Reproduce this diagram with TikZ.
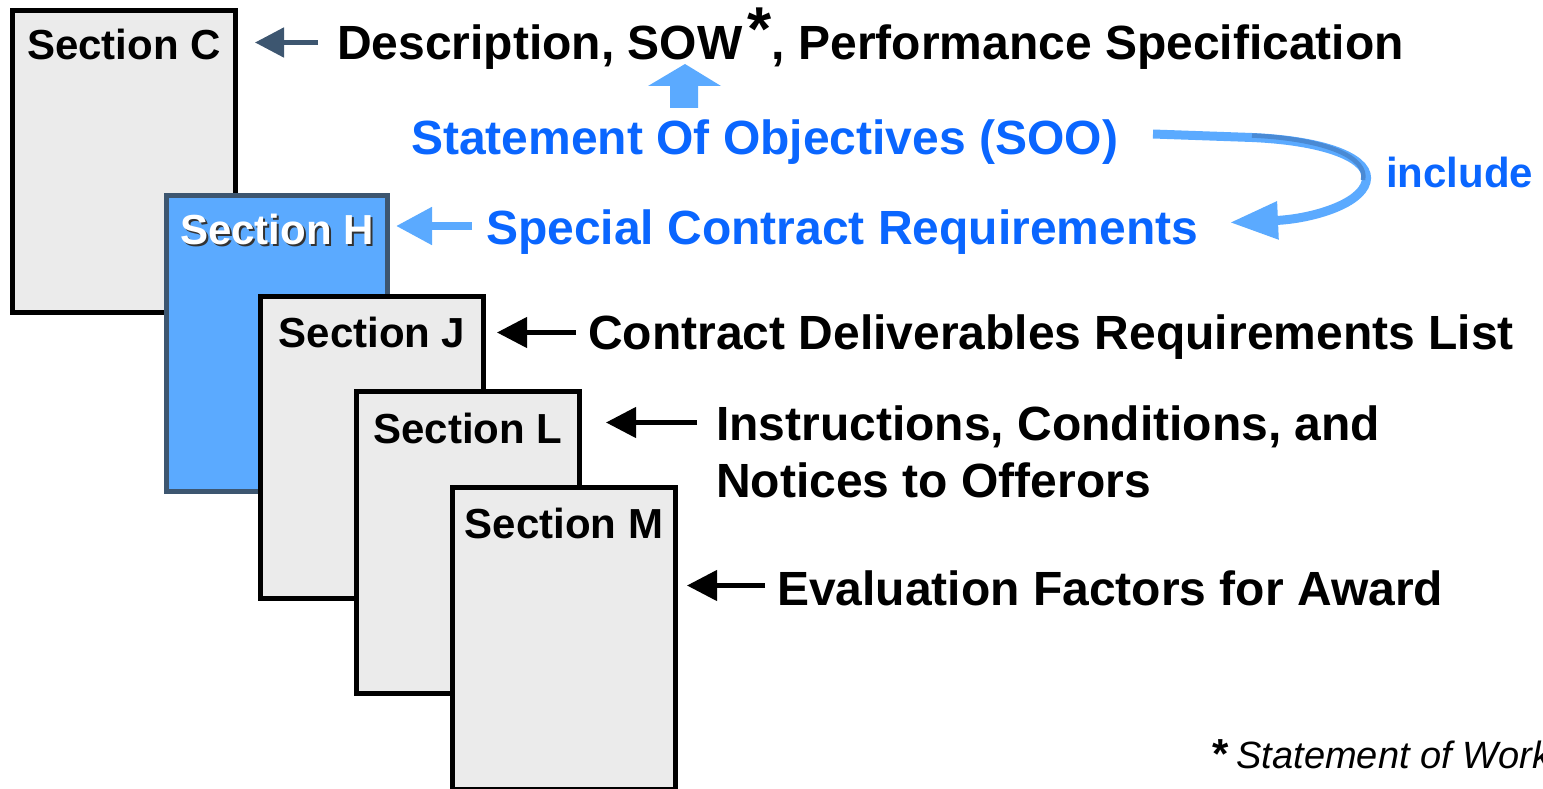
\documentclass[tikz,border=0pt]{standalone}
\usepackage{fontspec}
\setmainfont{Liberation Sans}
\usetikzlibrary{arrows.meta}
\definecolor{boxgray}{HTML}{EBEBEB}
\definecolor{hblue}{HTML}{5BAAFF}
\definecolor{hborder}{HTML}{3D5670}
\definecolor{tblue}{HTML}{0A66FF}
\definecolor{ribbon}{HTML}{4A8AD4}
\begin{document}
\begin{tikzpicture}[x=1pt,y=-1pt,
  page/.style={draw=black, line width=5pt, fill=boxgray, minimum width=223pt, minimum height=302pt, anchor=north west, inner sep=0pt, outer sep=0pt},
  seclabel/.style={font=\fontsize{42}{42}\selectfont\bfseries, anchor=base, inner sep=0pt},
  bigtext/.style={font=\fontsize{48}{48}\selectfont\bfseries, anchor=base west, inner sep=0pt},
  blackarrow/.style={line width=4.5pt, -{Triangle[length=30pt,width=30pt]}},
]
\useasboundingbox (0,0) rectangle (1543,789);
\clip (0,0) rectangle (1543,789);

% pages
\node[page] (pC) at (12.5,10.5) {};
\node[page, fill=hblue, draw=hborder, minimum width=221pt, minimum height=296pt] (pH) at (166.5,195.5) {};
\node[page] (pJ) at (260.5,296.5) {};
\node[page] (pL) at (356.5,391.5) {};
\node[page] (pM) at (452.5,487.5) {};

% page labels
\node[seclabel] (lC) at (124,60) {Section C};
\node[seclabel, text=black!80] (lHs) at (279,246) {Section H};
\node[seclabel, text=white] (lH) at (277,244) {Section H};
\node[seclabel] (lJ) at (372,347) {Section J};
\node[seclabel] (lL) at (468,443) {Section L};
\node[seclabel] (lM) at (564,538) {Section M};

% texts
\node[bigtext] (descr) at (337,60) {Description, SOW\hspace{5pt}\raisebox{9pt}{\fontsize{62}{62}\selectfont *}, Performance Specification};
\node[bigtext, text=tblue] (soo) at (411,155) {Statement Of Objectives (SOO)};
\node[bigtext, text=tblue] (special) at (486,244) {Special Contract Requirements};
\node[bigtext, text=tblue, font=\fontsize{42}{42}\selectfont\bfseries] (incl) at (1386,188) {include};
\node[bigtext] (cdrl) at (588,349) {Contract Deliverables Requirements List};
\node[bigtext] (instr) at (716,440) {Instructions, Conditions, and};
\node[bigtext] (notices) at (716,497) {Notices to Offerors};
\node[bigtext] (eval) at (777,605) {Evaluation Factors for Award};
\node[anchor=base west, inner sep=0pt, font=\fontsize{38}{38}\selectfont] (foot) at (1212,768) {{\fontsize{42}{42}\selectfont\bfseries *}\hspace{8pt}\itshape Statement of Work};

% arrow end points
\coordinate (cA) at (318,42.5);  \coordinate (cB) at (255,42.5);
\coordinate (hA) at (472,226);   \coordinate (hB) at (396,226);
\coordinate (jA) at (576,332.5); \coordinate (jB) at (497,332.5);
\coordinate (lA) at (697,422.5); \coordinate (lB) at (606,422.5);
\coordinate (mA) at (765,585.5); \coordinate (mB) at (687,585.5);
\coordinate (sA) at (1153,134);  \coordinate (sB) at (1230,222.5);

\draw[hborder, line width=5pt, -{Triangle[length=29pt,width=29pt]}] (cA) -- (cB);
\draw[hblue, line width=8pt, -{Triangle[length=36pt,width=36pt]}] (hA) -- (hB);
\draw[blackarrow] (jA) -- (jB);
\draw[blackarrow] (lA) -- (lB);
\draw[blackarrow] (mA) -- (mB);

% up arrow SOO -> SOW
\fill[hblue] (670,108) -- (698,108) -- (698,86) -- (721,86) -- (685,64) -- (648,86) -- (670,86) -- cycle;

% curved include arrow
\draw[hblue, line width=9pt, -{Triangle[length=48pt,width=36pt]}] (sA) -- (1252,137.5) .. controls (1330,141) and (1372,160) .. (1366,182) .. controls (1360,205) and (1310,219) .. (sB);
\draw[ribbon, line width=4.5pt] (1252,135.5) .. controls (1328,139) and (1368,158) .. (1363,180);
\end{tikzpicture}
\end{document}
